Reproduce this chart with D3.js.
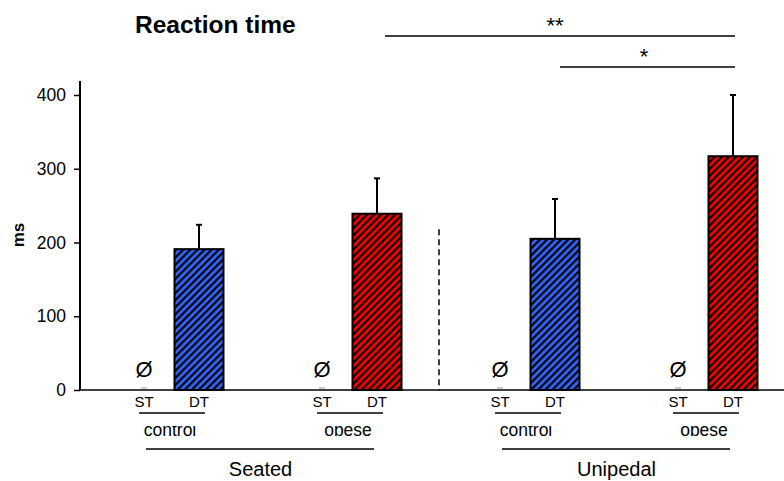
<!DOCTYPE html>
<html><head><meta charset="utf-8">
<script src="https://cdn.jsdelivr.net/npm/d3@7"></script>
<style>body{margin:0;background:#fff}svg{display:block;font-family:"Liberation Sans",Arial,sans-serif}</style>
</head><body><svg id="c" width="784" height="481"></svg>
<script>
const groups = ["Seated control","Seated obese","Unipedal control","Unipedal obese"];
const groupType = ["control","obese","control","obese"];
const conditions = ["ST","DT"];
const stMeans = [0,0,0,0];
const dtMeans = [191,239,205,317];
const dtErr = [33,48,54,83];
const postures = ["Seated","Unipedal"];
const yTicks = [0,100,200,300,400];
const colors = ["#3366ff","#ff0000","#3366ff","#ff0000"];

const svg = d3.select("#c");
const y = d3.scaleLinear().domain([0,400]).range([390,95]);
const xg = d3.scalePoint().domain(groups).range([144,678]);
const xc = d3.scalePoint().domain(conditions).range([0,55]);
const barW = 49;

// patterns
const defs = svg.append("defs");
["blue","red"].forEach((n,i)=>{
  const p = defs.append("pattern").attr("id","h"+n).attr("patternUnits","userSpaceOnUse")
    .attr("width",5).attr("height",5).attr("patternTransform","rotate(45)");
  p.append("rect").attr("width",5).attr("height",5).attr("fill", i===0?"#3366ff":"#ff0000");
  p.append("line").attr("x1",1.2).attr("x2",1.2).attr("y1",0).attr("y2",5).attr("stroke","#000").attr("stroke-width",2.2);
});
const clip = defs.append("clipPath").attr("id","lblclip");
clip.append("rect").attr("x",0).attr("y",426).attr("width",784).attr("height",30);

// y axis
const ax = svg.append("g").attr("transform","translate(80,0)")
  .call(d3.axisLeft(y).tickValues(yTicks).tickSize(6).tickSizeOuter(0).tickPadding(8));
ax.select(".domain").remove();
ax.selectAll(".tick line").attr("stroke","#000").attr("stroke-width",1.5);
ax.selectAll(".tick text").attr("font-size",17.5).attr("font-family","Liberation Sans, Arial").attr("fill","#000");
svg.append("line").attr("x1",80).attr("x2",80).attr("y1",y(419)).attr("y2",y(0)).attr("stroke","#000").attr("stroke-width",2);
svg.append("line").attr("x1",79).attr("x2",784).attr("y1",y(0)).attr("y2",y(0)).attr("stroke","#000").attr("stroke-width",1.5);

svg.append("text").attr("transform",`translate(24,235) rotate(-90)`).attr("text-anchor","middle")
  .attr("font-size",17).attr("font-weight","bold").text("ms");

// title
svg.append("text").attr("x",135).attr("y",33).attr("font-size",24.5).attr("font-weight","bold").text("Reaction time");

// dashed separator
svg.append("line").attr("x1",439).attr("x2",439).attr("y1",y(218)).attr("y2",y(0))
  .attr("stroke","#000").attr("stroke-width",1.5).attr("stroke-dasharray","6,4");

// bars
groups.forEach((g,i)=>{
  const cx = xg(g)+xc("DT");
  const top = y(dtMeans[i]);
  const et = y(dtMeans[i]+dtErr[i]);
  svg.append("line").attr("x1",cx).attr("x2",cx).attr("y1",top).attr("y2",et).attr("stroke","#000").attr("stroke-width",2);
  svg.append("line").attr("x1",cx-3).attr("x2",cx+3).attr("y1",et).attr("y2",et).attr("stroke","#000").attr("stroke-width",2);
  svg.append("rect").attr("x",cx-barW/2).attr("y",top).attr("width",barW).attr("height",y(0)-top)
    .attr("fill", colors[i]==="#3366ff"?"url(#hblue)":"url(#hred)").attr("stroke","#000").attr("stroke-width",2);
  // ST zero bars
  const sx = xg(g)+xc("ST");
  svg.append("line").attr("x1",sx-3).attr("x2",sx+3).attr("y1",y(stMeans[i])-2).attr("y2",y(stMeans[i])-2).attr("stroke","#999").attr("stroke-width",1);
  svg.append("text").attr("x",sx).attr("y",y(stMeans[i])-13).attr("text-anchor","middle").attr("font-size",22).text("Ø");
  // condition labels
  conditions.forEach(c=>{
    svg.append("text").attr("x",xg(g)+xc(c)).attr("y",407).attr("text-anchor","middle").attr("font-size",15).text(c);
  });
  svg.append("line").attr("x1",xg(g)-5).attr("x2",xg(g)+xc("DT")+6).attr("y1",413).attr("y2",413).attr("stroke","#000").attr("stroke-width",1.5);
  svg.append("text").attr("x",xg(g)+26).attr("y",436).attr("text-anchor","middle").attr("font-size",17.5)
    .attr("clip-path","url(#lblclip)").text(groupType[i]);
});

// posture labels
postures.forEach((p,k)=>{
  const a = xg(groups[k*2]), b = xg(groups[k*2+1])+xc("DT");
  svg.append("line").attr("x1",a+2).attr("x2",b-3).attr("y1",449).attr("y2",449).attr("stroke","#000").attr("stroke-width",1.5);
  svg.append("text").attr("x",(a+b)/2).attr("y",476).attr("text-anchor","middle").attr("font-size",20).text(p);
});

// significance
const sig = [{from:groups[1], to:groups[3], yv:36, label:"**"},{from:groups[2], to:groups[3], yv:67, label:"*"}];
sig.forEach(s=>{
  const c1 = xg(s.from)+xc("DT"), c2 = xg(s.to)+xc("DT");
  const a = c1 + (s.label==="**"? 8 : 5), b = c2+2;
  svg.append("line").attr("x1",a).attr("x2",b).attr("y1",s.yv).attr("y2",s.yv).attr("stroke","#000").attr("stroke-width",1.5);
  svg.append("text").attr("x",(c1+c2)/2).attr("y",s.yv-3).attr("text-anchor","middle").attr("font-size",22).text(s.label);
});
</script></body></html>
